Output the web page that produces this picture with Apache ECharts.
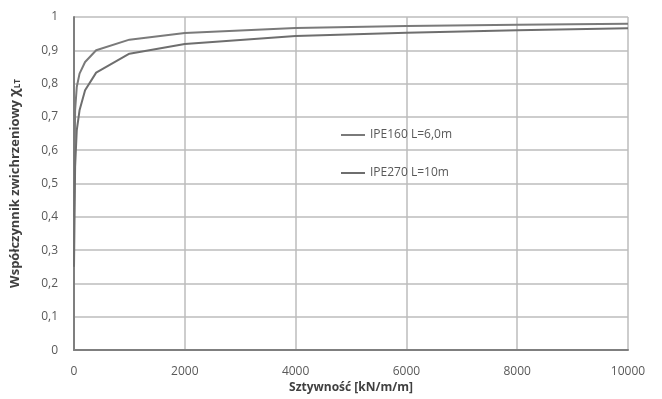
<!DOCTYPE html>
<html><head><meta charset="utf-8">
<script src="https://cdn.jsdelivr.net/npm/echarts@6/dist/echarts.min.js"></script>
<style>html,body{margin:0;padding:0;background:#fff}#c{width:662px;height:399px}</style>
</head><body><div id="c"></div>
<script>
const seriesNames = ['IPE160 L=6,0m', 'IPE270 L=10m'];
const stiffness = [0, 20, 50, 100, 200, 400, 1000, 2000, 4000, 6000, 8000, 10000];
const chiIPE160 = [0.40, 0.72, 0.79, 0.83, 0.865, 0.90, 0.932, 0.952, 0.967, 0.973, 0.977, 0.980];
const chiIPE270 = [0.25, 0.55, 0.66, 0.72, 0.78, 0.833, 0.89, 0.919, 0.943, 0.953, 0.960, 0.966];
const xTicks = [0, 2000, 4000, 6000, 8000, 10000];
const yTicks = [0, 0.1, 0.2, 0.3, 0.4, 0.5, 0.6, 0.7, 0.8, 0.9, 1];

const font = 'Open Sans';
const chart = echarts.init(document.getElementById('c'));
chart.setOption({
  animation: false,
  textStyle: { fontFamily: font },
  grid: { left: 72, right: 34, top: 17, bottom: 47 },
  legend: {
    orient: 'vertical', left: 336, top: 124, itemGap: 26,
    icon: 'rect', itemWidth: 24, itemHeight: 2,
    textStyle: { color: '#595959', fontSize: 12, fontFamily: font },
    data: seriesNames
  },
  xAxis: {
    type: 'value', min: xTicks[0], max: xTicks[xTicks.length - 1], interval: 2000,
    name: 'Sztywność [kN/m/m]', nameLocation: 'middle', nameGap: 30,
    nameTextStyle: { color: '#404040', fontSize: 12, fontWeight: 'bold', fontFamily: font },
    axisLine: { lineStyle: { color: '#7f7f7f', width: 2 } },
    axisTick: { show: false },
    axisLabel: { color: '#595959', fontSize: 12, margin: 15, formatter: v => String(v) },
    splitLine: { lineStyle: { color: '#bdbdbd', width: 1.5 } }
  },
  yAxis: {
    type: 'value', min: 0, max: 1, interval: 0.1,
    name: 'Współczynnik zwichrzeniowy {c|χ}{s|LT}', nameLocation: 'middle', nameGap: 52,
    nameTextStyle: { color: '#404040', fontSize: 13, fontWeight: 'bold', fontFamily: font,
      rich: { c: { fontSize: 14, fontWeight: 'bold', color: '#404040' },
              s: { fontSize: 8, fontWeight: 'bold', color: '#404040', verticalAlign: 'bottom', padding: [6, 0, 0, 0] } } },
    axisLine: { show: true, lineStyle: { color: '#7f7f7f', width: 2 } },
    axisTick: { show: false },
    axisLabel: { color: '#595959', fontSize: 12, margin: 16,
      formatter: v => (Math.round(v * 10) / 10).toString().replace('.', ',') },
    splitLine: { lineStyle: { color: '#bdbdbd', width: 1.5 } }
  },
  series: [
    { name: seriesNames[0], type: 'line', showSymbol: false, smooth: false,
      data: stiffness.map((x, i) => [x, chiIPE160[i]]),
      lineStyle: { color: '#7a7a7a', width: 2 }, itemStyle: { color: '#7a7a7a' } },
    { name: seriesNames[1], type: 'line', showSymbol: false, smooth: false,
      data: stiffness.map((x, i) => [x, chiIPE270[i]]),
      lineStyle: { color: '#6e6e6e', width: 2 }, itemStyle: { color: '#6e6e6e' } }
  ]
});
</script></body></html>
